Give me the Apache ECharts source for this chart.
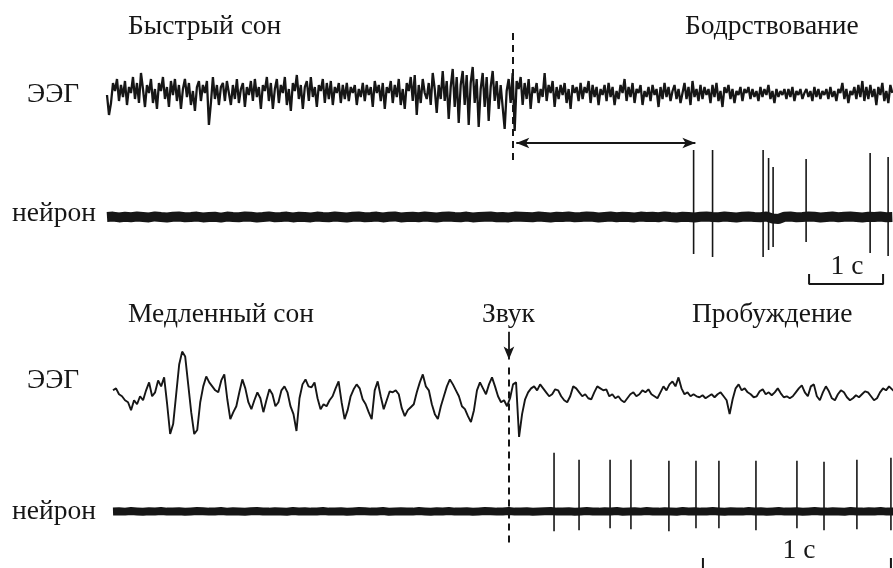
<!DOCTYPE html>
<html>
<head>
<meta charset="utf-8">
<script src="https://cdn.jsdelivr.net/npm/echarts@6.0.0/dist/echarts.min.js"></script>
<style>
  html, body { margin: 0; padding: 0; background: #fff; }
  #chart { width: 893px; height: 568px; }
</style>
</head>
<body>
<div id="chart"></div>
<script>
// sampling steps, seconds
var eegTopDt = 0.027;
var neuronTopDt = 0.081;
var eegBottomDt = 0.016;
var neuronBottomDt = 0.0319;

// REM sleep -> waking, EEG (arbitrary units, up = positive)
var eegTop = [
  0,-20,-8,12,4,16,-6,10,-2,14,-10,8,2,18,-4,12,-8,22,6,-12,
  10,2,16,-8,6,-14,12,4,18,-4,8,-12,14,0,16,-6,10,-14,6,16,
  -2,12,-10,4,-16,8,14,-6,10,2,14,-30,-8,18,-4,10,-10,8,12,-6,
  14,2,-10,10,-4,16,-8,6,12,-12,8,0,14,-6,16,-2,8,-14,10,4,
  18,-6,12,-14,6,16,-8,10,2,18,-10,6,-16,12,4,20,-4,10,-14,8,
  14,-6,18,-2,8,-12,10,4,16,-8,12,-4,14,-10,8,2,12,-8,10,-4,
  12,-6,8,2,10,-10,6,-2,12,-6,10,0,8,-12,14,2,10,-6,12,-14,
  8,2,14,-8,10,-2,16,-10,6,-14,12,4,18,-6,20,-20,10,-8,16,2,
  -4,12,-10,22,6,-18,10,-4,24,-6,14,-24,8,26,-12,18,-28,10,24,-10,
  20,-30,12,28,-8,16,-32,6,22,-12,18,-26,8,24,-6,14,-14,10,8,-34,
  4,16,-8,22,-36,14,6,18,-10,12,-4,16,-14,8,2,12,-8,6,-2,22,
  -6,10,2,14,-12,8,-4,10,0,12,-8,6,-14,10,2,8,-6,12,-4,8,
  2,14,-8,10,-2,8,-10,6,0,10,-6,12,-2,8,-10,4,-4,10,2,16,
  -6,8,-2,12,-8,6,2,10,-10,4,-2,8,-6,10,0,6,-12,8,-4,12,
  -2,8,-6,4,10,-4,6,-8,2,12,-4,8,-10,14,-2,6,-6,10,-4,8,
  0,6,-8,10,-2,12,-6,4,-12,8,2,10,-4,6,-8,4,0,8,-6,6,
  2,8,-4,6,-2,4,-6,8,-2,6,0,10,-4,4,-8,6,-2,4,0,6,
  -4,6,-2,8,-6,4,0,6,-4,2,6,-2,4,-6,8,-2,6,-4,4,0,
  6,-4,8,-2,4,-6,6,2,12,-4,6,-8,4,0,8,-4,10,-2,14,-6,
  8,-4,10,-2,6,-10,8,0,12,-6,4,-8,10,2
];

// REM sleep -> waking, neuron background
var neuronTop = [
  0,0.4,-0.4,0.2,-0.2,0.4,0,-0.4,0.6,0,-0.4,0.2,0.4,-0.2,0,0.4,-0.4,0,0.2,-0.6,
  0.4,0,-0.2,0.4,0.2,-0.4,0,0.6,-0.2,0,0.4,-0.4,0.2,0,-0.4,0.4,0,-0.2,0.4,0,
  -0.4,0.2,0.4,-0.2,0,0.4,-0.4,0.2,0.6,-0.4,0,0.2,-0.2,0.4,0,-0.4,0.2,0.4,0,-0.2,
  0.4,-0.4,0,0.2,0.4,-0.2,0,-0.4,0.4,0.2,0,-0.2,0.4,0,-0.4,0.2,0,0.4,-0.2,0,
  0.4,0.2,-0.4,0,0.4,-0.2,0.2,0,-0.4,0.4,0,0.2,-0.2,0.6,0,-0.4,0.2,0,-0.4,0.2,
  0.4,0,-0.2,0.4,0,-0.4,0.2,0.4,0,-0.2,0.4,-1.5,-2,0.2,0.4,-0.2,0,0.4,0.2,-0.4,
  0,0.4,-0.2,0.2,0.4,0,-0.4,0.2,0,0.4,-0.2,0
];

// REM sleep -> waking, spikes: time (s), top, bottom
var spikeTopT = [7.926, 8.182, 8.865, 8.939, 9.0, 9.446, 10.311, 10.554];
var spikeTopHi = [67, 67, 67, 59, 50, 58, 64, 60];
var spikeTopLo = [-37, -40, -40, -33, -30, -25, -36, -39];

// slow-wave sleep -> awakening, EEG
var eegBottom = [
  4,6,0,-2,-6,-8,-16,-6,-10,-2,-6,4,12,-2,2,14,8,17,-10,-40,
  -30,0,30,43,38,10,-18,-40,-36,-8,8,18,12,8,4,2,14,20,-5,-25,
  -18,-12,2,15,6,-8,-15,-6,2,-4,-18,-6,5,0,-12,-8,4,8,2,-12,
  -20,-37,-4,10,15,8,7,12,-4,-15,-10,-12,-6,-2,6,13,-8,-25,-16,-2,
  5,10,6,-5,-10,-18,-25,4,13,-2,-15,-6,3,2,4,0,-14,-22,-16,-13,
  -10,2,12,20,8,4,-10,-20,-25,-12,-2,8,15,10,4,-2,-12,-15,-22,-28,
  -16,4,12,6,0,10,17,8,-2,-8,-6,-12,-4,10,12,-43,-20,-5,2,6,
  8,4,10,6,2,-2,0,5,4,-2,-6,-8,-2,8,6,2,-2,0,-4,-5,
  2,8,6,4,5,-2,0,-4,-2,-6,-8,-4,0,2,-2,0,4,2,5,0,
  -2,-4,2,8,4,10,13,8,17,6,0,2,-2,0,-2,-3,-1,-4,-2,0,
  -3,0,2,-2,-6,-20,-5,6,10,4,6,2,0,-3,-2,3,5,0,2,-1,
  2,6,1,-3,-2,-4,-2,2,6,9,2,-2,8,10,-2,-6,2,8,3,-4,
  -6,0,4,2,-3,-6,-4,-1,-3,0,3,2,-2,-6,-4,2,6,4,8,5,2
];

// slow-wave sleep -> awakening, neuron background
var neuronBottom = [
  0,0.2,-0.2,0.4,0,-0.4,0.2,0,0.4,-0.2,0,0.2,-0.4,0,0.4,0.2,-0.2,0,0.4,-0.2,
  0.2,0,-0.4,0.2,0.4,0,-0.2,0.2,0,-0.4,0.4,0,0.2,-0.2,0,0.4,-0.2,0,0.2,-0.4,
  0,0.4,0.2,-0.2,0,0.4,-0.4,0,0.2,0,-0.2,0.4,0,-0.4,0.2,0,0.4,-0.2,0,0.2,
  -0.4,0,0.4,0.2,-0.2,0,0.4,-0.2,0,0.2,-0.4,0,0.2,0.4,-0.2,0,0.2,-0.4,0,0.4,
  0,-0.2,0.2,0,0.4,-0.4,0,0.2,-0.2,0.4,0,-0.2,0.2,0,-0.4,0.4,0,0.2,-0.2,0,
  0.4,0,-0.4,0.2,0,-0.2,0.4,0,0.2,-0.4,0,0.4,-0.2,0,0.2,-0.4,0,0.4,0,-0.2,
  0.2,0,-0.4,0.4,0,-0.2,0.2,0,0.4,-0.2,0,0.2
];

var spikeBottomT = [2.346, 2.479, 2.644, 2.755, 2.957, 3.101, 3.223, 3.420, 3.638, 3.782, 3.957, 4.138];
var spikeBottomHi = [59, 52, 52, 52, 51, 51, 51, 51, 51, 50, 52, 54];
var spikeBottomLo = [-20, -19, -17, -18, -20, -17, -17, -19, -17, -19, -18, -19];

// events and scale bars (s)
var stimTopT = 5.486;
var wakeLatency = [5.53, 7.95];
var scaleTop = [9.486, 10.486];
var stimBottomT = 2.106;
var scaleBottom = [3.138, 4.138];

// vertical offset of EEG trace above the neuron trace in each panel
var eegTopOffset = 122;
var eegBottomOffset = 118;

var ink = '#161616';
var serif = "'Liberation Serif', 'DejaVu Serif', serif";

function toSeries(values, dt, offset) {
  return values.map(function (v, i) { return [i * dt, v + offset]; });
}
function toSpikes(t, hi, lo) {
  return t.map(function (x, i) { return [x, hi[i], lo[i]]; });
}
function renderSpike(params, api) {
  var a = api.coord([api.value(0), api.value(1)]);
  var b = api.coord([api.value(0), api.value(2)]);
  return {
    type: 'line',
    shape: { x1: a[0], y1: a[1], x2: b[0], y2: b[1] },
    style: { stroke: ink, lineWidth: 1.6 }
  };
}
function label(text, x, y, align) {
  return {
    type: 'text',
    x: x,
    y: y,
    style: {
      text: text,
      font: '27.5px ' + serif,
      fill: ink,
      align: align || 'left',
      verticalAlign: 'middle'
    }
  };
}

var chart = echarts.init(document.getElementById('chart'), null, { renderer: 'canvas' });

var option = {
  animation: false,
  backgroundColor: '#fff',
  grid: [
    { left: 107, top: 30, width: 786, height: 270 },
    { left: 113, top: 300, width: 780, height: 270 }
  ],
  xAxis: [
    { gridIndex: 0, type: 'value', min: 0, max: 10.62, show: false },
    { gridIndex: 1, type: 'value', min: 0, max: 4.149, show: false }
  ],
  yAxis: [
    { gridIndex: 0, type: 'value', min: -83, max: 187, show: false },
    { gridIndex: 1, type: 'value', min: -57, max: 213, show: false }
  ],
  series: [
    {
      type: 'line',
      xAxisIndex: 0,
      yAxisIndex: 0,
      symbol: 'none',
      lineStyle: { color: ink, width: 2.3 },
      data: toSeries(eegTop, eegTopDt, eegTopOffset),
      markLine: {
        silent: true,
        animation: false,
        label: { show: false },
        symbol: ['none', 'none'],
        lineStyle: { color: ink, width: 2, type: [7, 5] },
        data: [
          [{ coord: [stimTopT, 184] }, { coord: [stimTopT, 52] }],
          [
            { coord: [wakeLatency[0], 74], symbol: 'arrow', symbolSize: [8, 13], lineStyle: { type: 'solid', width: 2 } },
            { coord: [wakeLatency[1], 74], symbol: 'arrow', symbolSize: [8, 13] }
          ]
        ]
      }
    },
    {
      type: 'line',
      xAxisIndex: 0,
      yAxisIndex: 0,
      symbol: 'none',
      lineStyle: { color: ink, width: 10 },
      data: toSeries(neuronTop, neuronTopDt, 0)
    },
    {
      type: 'custom',
      xAxisIndex: 0,
      yAxisIndex: 0,
      renderItem: renderSpike,
      data: toSpikes(spikeTopT, spikeTopHi, spikeTopLo)
    },
    {
      type: 'line',
      xAxisIndex: 0,
      yAxisIndex: 0,
      symbol: 'none',
      lineStyle: { color: ink, width: 2 },
      data: [[scaleTop[0], -57], [scaleTop[0], -67], [scaleTop[1], -67], [scaleTop[1], -57]]
    },
    {
      type: 'line',
      xAxisIndex: 1,
      yAxisIndex: 1,
      symbol: 'none',
      lineStyle: { color: ink, width: 1.9 },
      data: toSeries(eegBottom, eegBottomDt, eegBottomOffset),
      markLine: {
        silent: true,
        animation: false,
        label: { show: false },
        symbol: ['none', 'none'],
        lineStyle: { color: ink, width: 2, type: [7, 5] },
        data: [
          [{ coord: [stimBottomT, 145] }, { coord: [stimBottomT, -35] }],
          [
            { coord: [stimBottomT, 181], lineStyle: { type: 'solid', width: 1.8 } },
            { coord: [stimBottomT, 153], symbol: 'arrow', symbolSize: [8, 13] }
          ]
        ]
      }
    },
    {
      type: 'line',
      xAxisIndex: 1,
      yAxisIndex: 1,
      symbol: 'none',
      lineStyle: { color: ink, width: 8 },
      data: toSeries(neuronBottom, neuronBottomDt, 0)
    },
    {
      type: 'custom',
      xAxisIndex: 1,
      yAxisIndex: 1,
      renderItem: renderSpike,
      data: toSpikes(spikeBottomT, spikeBottomHi, spikeBottomLo)
    },
    {
      type: 'line',
      xAxisIndex: 1,
      yAxisIndex: 1,
      symbol: 'none',
      lineStyle: { color: ink, width: 2 },
      data: [[scaleBottom[0], -47], [scaleBottom[0], -58], [scaleBottom[1], -58], [scaleBottom[1], -47]]
    }
  ],
  graphic: [
    label('Быстрый сон', 128, 27),
    label('Бодрствование', 685, 27),
    label('ЭЭГ', 27, 95),
    label('нейрон', 12, 214),
    label('1 с', 847, 267, 'center'),
    label('Медленный сон', 128, 315),
    label('Звук', 482, 315),
    label('Пробуждение', 692, 315),
    label('ЭЭГ', 27, 381),
    label('нейрон', 12, 512),
    label('1 с', 799, 551, 'center')
  ]
};

chart.setOption(option);
window.addEventListener('resize', function () { chart.resize(); });
</script>
</body>
</html>
